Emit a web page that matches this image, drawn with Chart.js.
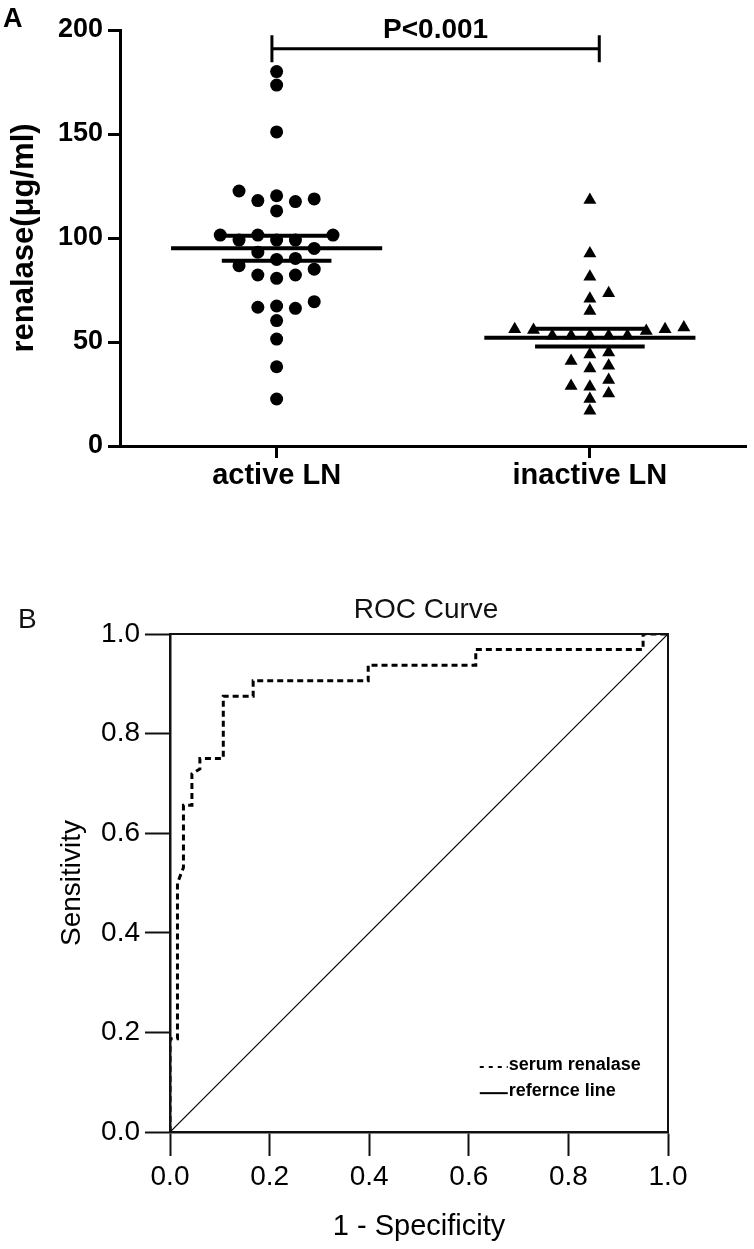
<!DOCTYPE html>
<html>
<head>
<meta charset="utf-8">
<script src="https://cdn.jsdelivr.net/npm/chart.js@4.4.1/dist/chart.umd.min.js"></script>
<style>
  body { margin: 0; background: #fff; }
  canvas { position: absolute; left: 0; }
  #chart-a { top: 0; }
  #chart-b { top: 560px; }
</style>
</head>
<body>
<canvas id="chart-a" width="754" height="520"></canvas>
<canvas id="chart-b" width="754" height="689"></canvas>
<script>
// panel A: serum renalase (ug/ml) per patient
const groupLabels = ["active LN", "inactive LN"];
const activeLN = [180, 173.5, 151, 122.6, 120.3, 118.8, 118, 117.5, 113, 101.4, 101.4, 101.4, 99, 99, 99,
  95, 93.2, 90.2, 89.7, 86.7, 85, 82.2, 82.2, 80.6, 69.4, 67.3, 66.7, 66.2, 60.3, 51.4, 38.1, 22.6];
const inactiveLN = [118.3, 92.6, 81.4, 73.4, 70.8, 64.9, 57, 56.1, 55.3, 56.1, 55.8, 53, 53, 53, 53, 53,
  44, 45, 37.3, 38.6, 40.9, 31.7, 28.8, 25.3, 28.5, 22.6, 17];
const yTicksA = [0, 50, 100, 150, 200];
const pLabel = "P<0.001";

// panel B: ROC curve
const rocFpr = [0, 0, 0.015, 0.015, 0.027, 0.027, 0.044, 0.044, 0.06, 0.06, 0.107, 0.107, 0.167, 0.167,
  0.398, 0.398, 0.614, 0.614, 0.95, 0.95, 1];
const rocTpr = [0, 0.1875, 0.1875, 0.5, 0.531, 0.656, 0.656, 0.719, 0.729, 0.75, 0.75, 0.875, 0.875, 0.906,
  0.906, 0.9375, 0.9375, 0.969, 0.969, 1, 1];
const refFpr = [0, 1];
const refTpr = [0, 1];
const rocTicks = [0, 0.2, 0.4, 0.6, 0.8, 1.0];
const rocTitle = "ROC Curve";

Chart.defaults.font.family = "'Liberation Sans', Arial, sans-serif";
Chart.defaults.color = "#000";

function meanSem(arr) {
  const n = arr.length;
  const m = arr.reduce((a, b) => a + b, 0) / n;
  const sd = Math.sqrt(arr.reduce((a, v) => a + (v - m) * (v - m), 0) / (n - 1));
  return [m, sd / Math.sqrt(n)];
}

// simple beeswarm: spread points sideways when they would overlap
function swarm(values, center, gap, step) {
  const order = values.map((v, i) => i).sort((a, b) => values[a] - values[b]);
  const placed = [];
  const out = [];
  order.forEach((i) => {
    const v = values[i];
    for (let k = 0; k < 40; k++) {
      const s = k === 0 ? 0 : (k % 2 ? (k + 1) / 2 : -k / 2);
      if (!placed.some((p) => p.s === s && Math.abs(p.v - v) < gap)) {
        placed.push({ s, v });
        out.push({ x: center + s * step, y: v });
        break;
      }
    }
  });
  return out;
}

function hLine(cx, half, y, width) {
  return {
    data: [{ x: cx - half, y }, { x: cx + half, y }],
    showLine: true, pointRadius: 0, borderColor: "#000", borderWidth: width,
  };
}

const [mA, sA] = meanSem(activeLN);
const [mI, sI] = meanSem(inactiveLN);
const meanHalf = 0.337, semHalf = 0.175, swarmStep = 0.06;
const brX1 = 0.985, brX2 = 2.03, brY = 191, brTick = 6.5;

const pPlugin = {
  id: "pLabel",
  afterDraw(chart) {
    const { ctx, scales } = chart;
    ctx.save();
    ctx.fillStyle = "#000";
    ctx.font = "bold 28px 'Liberation Sans', Arial, sans-serif";
    ctx.textAlign = "center";
    ctx.textBaseline = "middle";
    ctx.fillText(pLabel, scales.x.getPixelForValue((brX1 + brX2) / 2), scales.y.getPixelForValue(brY) - 18);
    ctx.textAlign = "left";
    ctx.textBaseline = "alphabetic";
    ctx.font = "bold 27px 'Liberation Sans', Arial, sans-serif";
    ctx.fillText("A", 3, 27);
    ctx.restore();
  },
};

new Chart(document.getElementById("chart-a"), {
  type: "scatter",
  data: {
    datasets: [
      {
        data: swarm(activeLN, 1, 6.5, swarmStep),
        pointStyle: "circle", pointRadius: 6.5, backgroundColor: "#000", borderColor: "#000", borderWidth: 0,
      },
      {
        data: swarm(inactiveLN, 2, 5, swarmStep),
        pointStyle: "triangle", pointRadius: 7.5, backgroundColor: "#000", borderColor: "#000", borderWidth: 0,
      },
      hLine(1, meanHalf, mA, 4),
      hLine(1, semHalf, mA + sA, 4),
      hLine(1, semHalf, mA - sA, 4),
      hLine(2, meanHalf, mI, 4),
      hLine(2, semHalf, mI + sI, 4),
      hLine(2, semHalf, mI - sI, 4),
      {
        data: [
          { x: brX1, y: brY + brTick }, { x: brX1, y: brY - brTick }, { x: brX1, y: brY },
          { x: brX2, y: brY }, { x: brX2, y: brY + brTick }, { x: brX2, y: brY - brTick },
        ],
        showLine: true, pointRadius: 0, borderColor: "#000", borderWidth: 3,
      },
    ],
  },
  options: {
    responsive: false,
    animation: false,
    devicePixelRatio: 1,
    layout: { padding: { top: 30, right: 2, bottom: 0, left: 0 } },
    plugins: { legend: { display: false }, tooltip: { enabled: false } },
    scales: {
      x: {
        type: "linear", min: 0.5, max: 2.5,
        afterBuildTicks: (scale) => { scale.ticks = groupLabels.map((_, i) => ({ value: i + 1 })); },
        afterFit: (scale) => { scale.height = 74; },
        ticks: {
          callback: (v) => groupLabels[Math.round(v) - 1],
          font: { size: 29, weight: "bold" }, padding: 1, maxRotation: 0,
        },
        grid: { drawOnChartArea: false, tickLength: 12, tickWidth: 3, tickColor: "#000" },
        border: { color: "#000", width: 3 },
      },
      y: {
        min: 0, max: 200,
        afterBuildTicks: (scale) => { scale.ticks = yTicksA.map((v) => ({ value: v })); },
        afterFit: (scale) => { scale.width = 120; },
        ticks: { font: { size: 27, weight: "bold" }, padding: 5 },
        grid: { drawOnChartArea: false, tickLength: 12, tickWidth: 3, tickColor: "#000" },
        border: { color: "#000", width: 3 },
        title: {
          display: true, text: "renalase(μg/ml)",
          font: { size: 31, weight: "bold" }, padding: { top: 6, bottom: 0 },
        },
      },
    },
  },
  plugins: [pPlugin],
});

// legend spots inside the ROC plot, in data units
const legendX = 0.622;
const legendY = [0.1345, 0.082];

const rocPlugin = {
  id: "rocFrame",
  afterDraw(chart) {
    const { ctx, chartArea, scales } = chart;
    ctx.save();
    ctx.strokeStyle = "#111";
    ctx.lineWidth = 2;
    ctx.strokeRect(chartArea.left, chartArea.top, chartArea.right - chartArea.left, chartArea.bottom - chartArea.top);

    ctx.font = "bold 18px 'Liberation Sans', Arial, sans-serif";
    ctx.fillStyle = "#000";
    ctx.textBaseline = "middle";
    chart.data.datasets.forEach((ds, i) => {
      const x = scales.x.getPixelForValue(legendX);
      const y = scales.y.getPixelForValue(legendY[i]);
      ctx.beginPath();
      ctx.setLineDash(ds.borderDash && ds.borderDash.length ? [4, 5] : []);
      ctx.lineWidth = 2;
      ctx.strokeStyle = "#000";
      ctx.moveTo(x, y + 2);
      ctx.lineTo(x + 28, y + 2);
      ctx.stroke();
      ctx.setLineDash([]);
      ctx.fillText(ds.label, x + 29, y);
    });

    ctx.fillStyle = "#111";
    ctx.font = "28px 'Liberation Sans', Arial, sans-serif";
    ctx.textAlign = "center";
    ctx.fillText(rocTitle, (chartArea.left + chartArea.right) / 2 + 7, chartArea.top - 24);

    ctx.textAlign = "left";
    ctx.textBaseline = "alphabetic";
    ctx.fillText("B", 18, 68);
    ctx.restore();
  },
};

new Chart(document.getElementById("chart-b"), {
  type: "scatter",
  data: {
    datasets: [
      {
        label: "serum renalase",
        data: rocFpr.map((x, i) => ({ x, y: rocTpr[i] })),
        showLine: true, pointRadius: 0, borderColor: "#000", borderWidth: 3, borderDash: [6, 4],
      },
      {
        label: "refernce line",
        data: refFpr.map((x, i) => ({ x, y: refTpr[i] })),
        showLine: true, pointRadius: 0, borderColor: "#000", borderWidth: 1.2,
      },
    ],
  },
  options: {
    responsive: false,
    animation: false,
    devicePixelRatio: 1,
    layout: { padding: { top: 74, right: 86, bottom: 0, left: 0 } },
    plugins: { legend: { display: false }, tooltip: { enabled: false } },
    scales: {
      x: {
        type: "linear", min: 0, max: 1,
        afterBuildTicks: (scale) => { scale.ticks = rocTicks.map((v) => ({ value: v })); },
        afterFit: (scale) => { scale.height = 117; },
        ticks: { callback: (v) => v.toFixed(1), font: { size: 28 }, padding: 4, maxRotation: 0 },
        grid: { drawOnChartArea: false, tickLength: 24, tickWidth: 2, tickColor: "#111" },
        border: { color: "#111", width: 2.5 },
        title: { display: true, text: "1 - Specificity", font: { size: 29 }, padding: { top: 0, bottom: 5 } },
      },
      y: {
        min: 0, max: 1,
        afterBuildTicks: (scale) => { scale.ticks = rocTicks.map((v) => ({ value: v })); },
        afterFit: (scale) => { scale.width = 170; },
        ticks: { callback: (v) => v.toFixed(1), font: { size: 28 }, padding: 5 },
        grid: { drawOnChartArea: false, tickLength: 25, tickWidth: 2, tickColor: "#111" },
        border: { color: "#111", width: 2.5 },
        title: { display: true, text: "Sensitivity", font: { size: 28 }, padding: { top: 55, bottom: 0 } },
      },
    },
  },
  plugins: [rocPlugin],
});
</script>
</body>
</html>
